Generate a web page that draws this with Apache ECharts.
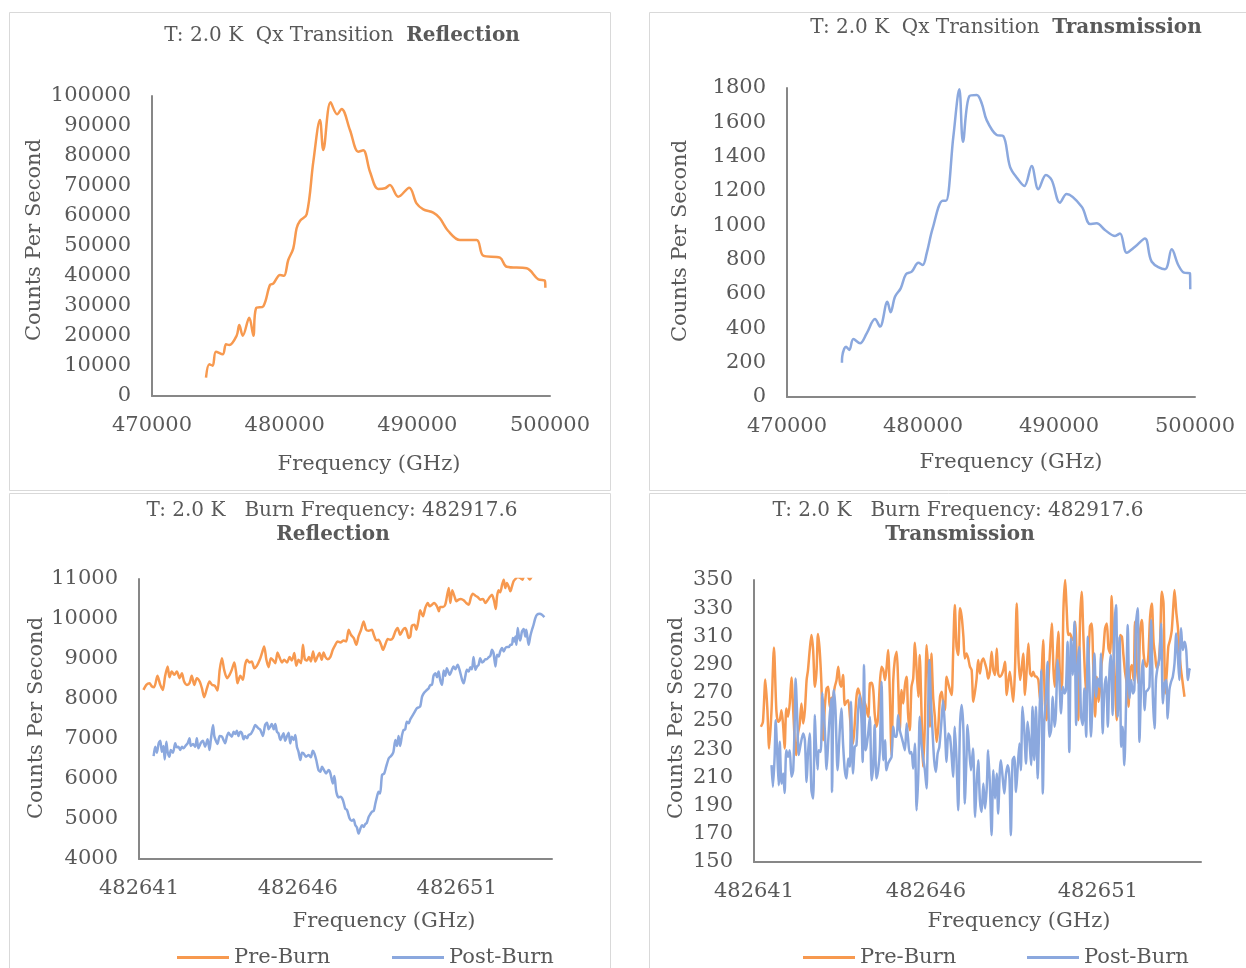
<!DOCTYPE html>
<html>
<head>
<meta charset="utf-8">
<script src="https://cdn.jsdelivr.net/npm/echarts@6/dist/echarts.min.js"></script>
<style>
html,body{margin:0;padding:0;background:#fff;}
#chart{width:1246px;height:968px;}
</style>
</head>
<body>
<div id="chart"></div>
<script>
// ---------- DATA ----------
const qxReflection = [[474070,6100],[474320,10570],[474570,10100],[474820,14770],[475330,13900],[475580,17230],[475830,17000],[476380,20100],[476580,23670],[476840,20100],[477330,26100],[477640,20100],[477840,29230],[478390,29900],[478890,37000],[479140,37430],[479650,40330],[479950,40100],[480270,45330],[480650,49230],[480900,55900],[481150,58330],[481660,60570],[482160,78100],[482660,92000],[482910,82000],[483460,97900],[483960,93900],[484290,95670],[484920,88670],[485550,81430],[485920,81900],[486430,74770],[487050,69000],[487560,69230],[487930,70330],[488560,66430],[489390,69430],[489940,64230],[490450,62230],[491200,61100],[491700,59230],[492330,55000],[493210,52000],[494470,52000],[494970,46770],[496230,46100],[496730,43100],[498240,42570],[499110,38900],[499620,38330],[499650,36100]];

const qxTransmission = [[474040,200],[474060,235],[474340,293],[474580,274],[474880,338],[475370,313],[475860,371],[476470,454],[476840,410],[477380,555],[477620,493],[477940,584],[478360,633],[478750,716],[479170,730],[479660,782],[479980,769],[480270,837],[480710,982],[481450,1143],[481690,1143],[482230,1516],[482670,1792],[482940,1487],[483410,1753],[483950,1759],[484320,1710],[484680,1613],[485420,1526],[485900,1520],[486400,1341],[486930,1274],[487450,1229],[487990,1345],[488480,1210],[489040,1293],[489460,1264],[490070,1132],[490560,1182],[491670,1108],[492280,1008],[492770,1012],[493380,973],[494120,938],[494490,953],[494980,840],[495590,875],[496320,924],[496820,788],[497790,744],[498290,860],[498770,769],[499190,724],[499630,720],[499650,627]];

const burnReflPre = [[482641.14,8228],[482641.23,8353],[482641.33,8395],[482641.41,8311],[482641.48,8295],[482641.58,8579],[482641.67,8353],[482641.75,8228],[482641.82,8563],[482641.90,8813],[482641.96,8545],[482642.03,8687],[482642.11,8604],[482642.19,8687],[482642.28,8520],[482642.35,8646],[482642.42,8437],[482642.51,8353],[482642.59,8395],[482642.66,8579],[482642.74,8353],[482642.82,8520],[482642.91,8437],[482642.98,8270],[482643.05,8044],[482643.14,8270],[482643.22,8437],[482643.30,8353],[482643.39,8328],[482643.47,8211],[482643.54,8729],[482643.61,9021],[482643.68,8729],[482643.77,8520],[482643.85,8604],[482643.92,8729],[482644.00,8913],[482644.06,8646],[482644.10,8395],[482644.19,8579],[482644.27,8479],[482644.34,8854],[482644.40,8980],[482644.48,8913],[482644.55,8938],[482644.63,8771],[482644.71,8829],[482644.80,8980],[482644.87,9147],[482644.94,9314],[482645.01,8980],[482645.08,8796],[482645.15,9021],[482645.21,8980],[482645.29,8896],[482645.36,9163],[482645.42,9047],[482645.50,8913],[482645.57,8980],[482645.66,8913],[482645.74,9047],[482645.81,8963],[482645.89,9147],[482645.95,8829],[482646.02,8980],[482646.10,8896],[482646.16,9356],[482646.22,8996],[482646.29,8963],[482646.35,9047],[482646.41,8938],[482646.48,9188],[482646.55,8938],[482646.62,9063],[482646.68,9147],[482646.75,8980],[482646.81,9163],[482646.87,9047],[482646.94,8996],[482647.02,9047],[482647.10,9230],[482647.18,9356],[482647.25,9439],[482647.34,9414],[482647.44,9464],[482647.52,9439],[482647.60,9731],[482647.67,9606],[482647.76,9523],[482647.84,9356],[482647.91,9564],[482647.99,9731],[482648.07,9940],[482648.15,9731],[482648.23,9706],[482648.33,9731],[482648.39,9606],[482648.47,9464],[482648.54,9481],[482648.62,9356],[482648.68,9230],[482648.75,9356],[482648.83,9498],[482648.91,9481],[482648.99,9523],[482649.07,9690],[482649.14,9773],[482649.22,9606],[482649.31,9731],[482649.38,9773],[482649.43,9690],[482649.49,9523],[482649.54,9564],[482649.59,9832],[482649.67,9857],[482649.73,9731],[482649.80,9982],[482649.85,10216],[482649.94,10066],[482650.01,10274],[482650.09,10400],[482650.15,10316],[482650.22,10358],[482650.29,10400],[482650.38,10316],[482650.44,10191],[482650.48,10299],[482650.57,10299],[482650.64,10358],[482650.69,10550],[482650.75,10776],[482650.80,10400],[482650.86,10717],[482650.93,10567],[482650.99,10441],[482651.06,10483],[482651.13,10500],[482651.22,10467],[482651.30,10400],[482651.38,10358],[482651.45,10550],[482651.51,10634],[482651.59,10583],[482651.66,10550],[482651.74,10483],[482651.83,10500],[482651.90,10400],[482651.97,10467],[482652.04,10550],[482652.11,10609],[482652.18,10441],[482652.23,10249],[482652.27,10567],[482652.32,10717],[482652.37,10667],[482652.43,10859],[482652.48,10984],[482652.53,10776],[482652.58,10901],[482652.64,10801],[482652.69,10692],[482652.74,10817],[482652.79,10943],[482652.85,11001],[482652.92,11051],[482653.00,11026],[482653.07,10984],[482653.15,11150],[482653.30,10990],[482653.45,11200],[482653.60,11250],[482653.75,11300]];

const burnReflPost = [[482641.46,6574],[482641.51,6808],[482641.56,6658],[482641.62,6891],[482641.67,6958],[482641.72,6683],[482641.77,6825],[482641.81,6490],[482641.86,6933],[482641.90,6683],[482641.96,6557],[482642.00,6724],[482642.07,6658],[482642.14,6891],[482642.19,6791],[482642.24,6808],[482642.30,6724],[482642.35,6808],[482642.40,6766],[482642.46,6825],[482642.53,6891],[482642.59,7017],[482642.63,6825],[482642.70,6875],[482642.77,6808],[482642.82,7017],[482642.87,6766],[482642.95,6908],[482643.01,6958],[482643.08,6808],[482643.16,6992],[482643.22,6724],[482643.26,6975],[482643.33,7351],[482643.37,7075],[482643.41,6975],[482643.47,6875],[482643.54,7075],[482643.61,7058],[482643.66,6975],[482643.71,6891],[482643.77,7075],[482643.82,7159],[482643.87,7100],[482643.92,7058],[482643.98,7184],[482644.03,7125],[482644.08,7209],[482644.13,7075],[482644.19,7184],[482644.24,7142],[482644.29,6992],[482644.34,7075],[482644.40,7017],[482644.45,7100],[482644.52,7125],[482644.59,7226],[482644.66,7351],[482644.71,7309],[482644.76,7267],[482644.82,7226],[482644.90,7075],[482644.97,7351],[482645.03,7409],[482645.08,7242],[482645.13,7309],[482645.18,7376],[482645.24,7242],[482645.29,7376],[482645.34,7184],[482645.39,7142],[482645.45,6975],[482645.50,7058],[482645.55,7142],[482645.60,6958],[482645.66,7075],[482645.71,7159],[482645.76,6891],[482645.81,7058],[482645.87,6975],[482645.92,7100],[482645.97,6808],[482646.02,6683],[482646.08,6474],[482646.13,6658],[482646.18,6641],[482646.26,6557],[482646.34,6599],[482646.41,6541],[482646.47,6708],[482646.52,6641],[482646.58,6474],[482646.65,6223],[482646.71,6181],[482646.76,6307],[482646.81,6240],[482646.89,6140],[482646.97,6223],[482647.02,6156],[482647.10,5889],[482647.15,6073],[482647.21,5680],[482647.28,5538],[482647.34,5555],[482647.42,5471],[482647.49,5263],[482647.55,5221],[482647.63,5012],[482647.70,4954],[482647.755,4987],[482647.81,4845],[482647.86,4787],[482647.91,4636],[482647.97,4761],[482648.02,4845],[482648.07,4803],[482648.12,4870],[482648.17,4903],[482648.23,5054],[482648.28,5121],[482648.33,5179],[482648.39,5204],[482648.44,5388],[482648.49,5555],[482648.54,5680],[482648.59,5638],[482648.65,6098],[482648.72,6140],[482648.78,6307],[482648.86,6516],[482648.91,6557],[482648.96,6599],[482649.01,6683],[482649.07,6975],[482649.12,6825],[482649.17,7075],[482649.22,6825],[482649.28,7100],[482649.33,7226],[482649.38,7242],[482649.43,7434],[482649.49,7393],[482649.54,7493],[482649.59,7560],[482649.665,7660],[482649.75,7769],[482649.85,7810],[482649.91,8061],[482649.98,8161],[482650.04,8211],[482650.12,8270],[482650.17,8353],[482650.22,8353],[482650.27,8579],[482650.33,8646],[482650.38,8545],[482650.43,8687],[482650.48,8479],[482650.54,8353],[482650.59,8712],[482650.64,8579],[482650.69,8771],[482650.78,8604],[482650.85,8729],[482650.90,8813],[482650.96,8746],[482651.03,8854],[482651.09,8729],[482651.17,8479],[482651.22,8395],[482651.27,8562],[482651.32,8729],[482651.38,8687],[482651.43,8796],[482651.48,8746],[482651.53,9047],[482651.59,8729],[482651.64,8813],[482651.69,8854],[482651.74,9021],[482651.80,8913],[482651.85,8938],[482651.90,8996],[482651.95,8996],[482652.01,9047],[482652.06,9080],[482652.11,9230],[482652.16,9147],[482652.22,8813],[482652.27,9105],[482652.32,9063],[482652.37,9188],[482652.425,9272],[482652.48,9188],[482652.53,9272],[482652.58,9297],[482652.64,9297],[482652.69,9356],[482652.74,9356],[482652.77,9523],[482652.81,9439],[482652.85,9564],[482652.88,9356],[482652.92,9773],[482652.96,9564],[482653.00,9464],[482653.055,9690],[482653.11,9748],[482653.16,9564],[482653.19,9731],[482653.23,9523],[482653.265,9356],[482653.32,9581],[482653.37,9731],[482653.42,9857],[482653.475,10024],[482653.53,10107],[482653.61,10132],[482653.685,10107],[482653.76,10049]];

const burnTransPre = [[482641.20,245.9],[482641.26,249.4],[482641.33,279.5],[482641.39,257.7],[482641.44,230.5],[482641.51,257.7],[482641.58,302.2],[482641.65,257.7],[482641.70,249.4],[482641.75,250.6],[482641.80,257.7],[482641.85,245.9],[482641.89,230.5],[482641.94,258.9],[482641.99,253.0],[482642.04,262.4],[482642.09,280.9],[482642.14,257.7],[482642.19,234.0],[482642.23,225.8],[482642.28,241.1],[482642.33,248.2],[482642.38,262.4],[482642.43,248.2],[482642.48,257.7],[482642.53,279.0],[482642.57,286.1],[482642.62,300.3],[482642.67,311.0],[482642.72,300.3],[482642.77,274.3],[482642.82,286.1],[482642.86,311.7],[482642.91,300.3],[482642.96,276.6],[482643.01,236.4],[482643.06,260.1],[482643.11,273.1],[482643.16,274.3],[482643.20,260.1],[482643.25,266.0],[482643.30,267.2],[482643.35,274.3],[482643.40,279.0],[482643.45,288.5],[482643.50,276.6],[482643.54,274.3],[482643.59,282.6],[482643.64,261.3],[482643.69,263.6],[482643.74,264.8],[482643.79,253.0],[482643.84,237.6],[482643.88,234.0],[482643.93,248.2],[482643.98,267.2],[482644.03,273.1],[482644.08,268.4],[482644.13,262.4],[482644.17,250.6],[482644.22,263.6],[482644.32,253.0],[482644.37,276.6],[482644.42,277.1],[482644.47,271.9],[482644.51,255.3],[482644.56,245.9],[482644.61,253.0],[482644.66,276.6],[482644.71,288.5],[482644.76,286.1],[482644.81,279.0],[482644.85,286.1],[482644.90,300.3],[482644.95,269.5],[482645.00,225.8],[482645.05,279.0],[482645.10,294.4],[482645.15,299.1],[482645.19,279.0],[482645.24,243.5],[482645.29,271.9],[482645.34,262.4],[482645.39,275.5],[482645.44,281.4],[482645.48,255.3],[482645.53,243.5],[482645.58,274.3],[482645.63,280.2],[482645.68,305.5],[482645.73,286.1],[482645.78,267.2],[482645.82,296.8],[482645.87,257.7],[482645.92,217.5],[482645.97,248.2],[482646.02,303.9],[482646.07,283.7],[482646.12,245.9],[482646.16,297.9],[482646.21,267.2],[482646.26,253.0],[482646.31,235.2],[482646.36,245.9],[482646.41,267.2],[482646.46,270.7],[482646.50,262.9],[482646.55,257.7],[482646.60,281.4],[482646.65,276.6],[482646.70,271.9],[482646.75,268.4],[482646.79,296.8],[482646.84,332.3],[482646.89,302.7],[482646.94,296.8],[482646.99,329.9],[482647.04,324.0],[482647.09,309.8],[482647.13,294.4],[482647.18,297.9],[482647.23,294.4],[482647.28,288.5],[482647.33,286.1],[482647.38,263.6],[482647.47,279.0],[482647.52,293.2],[482647.57,283.7],[482647.62,292.0],[482647.67,294.4],[482647.72,290.8],[482647.77,286.1],[482647.81,280.2],[482647.86,284.9],[482647.91,299.1],[482647.96,286.1],[482648.01,282.6],[482648.06,301.5],[482648.10,283.7],[482648.15,281.4],[482648.20,282.6],[482648.25,286.1],[482648.30,292.0],[482648.35,268.4],[482648.40,279.0],[482648.44,284.9],[482648.49,274.3],[482648.54,263.6],[482648.59,286.1],[482648.64,333.4],[482648.69,295.6],[482648.74,279.0],[482648.78,286.1],[482648.83,297.9],[482648.88,268.4],[482648.93,286.1],[482648.98,305.0],[482649.03,283.7],[482649.08,281.8],[482649.12,284.9],[482649.17,281.8],[482649.22,281.4],[482649.27,279.0],[482649.32,264.8],[482649.37,286.1],[482649.41,307.4],[482649.46,262.4],[482649.51,250.6],[482649.56,276.6],[482649.61,300.3],[482649.66,319.2],[482649.71,286.1],[482649.75,274.3],[482649.80,293.2],[482649.85,313.3],[482649.90,281.4],[482649.95,271.9],[482650.00,329.9],[482650.05,350.0],[482650.09,331.1],[482650.14,311.0],[482650.19,312.1],[482650.24,308.6],[482650.29,307.4],[482650.34,320.4],[482650.39,288.5],[482650.43,250.6],[482650.48,319.2],[482650.53,341.7],[482650.58,309.8],[482650.63,281.4],[482650.68,267.2],[482650.72,288.5],[482650.77,316.9],[482650.82,319.2],[482650.87,286.1],[482650.92,253.0],[482650.97,281.4],[482651.02,263.6],[482651.06,271.9],[482651.11,290.8],[482651.16,300.3],[482651.21,315.7],[482651.26,319.2],[482651.31,301.5],[482651.36,297.9],[482651.40,338.6],[482651.45,305.0],[482651.50,276.6],[482651.55,250.6],[482651.60,279.0],[482651.65,311.0],[482651.70,309.8],[482651.74,297.9],[482651.79,284.9],[482651.84,276.6],[482651.89,260.1],[482651.94,286.1],[482651.99,289.7],[482652.04,279.0],[482652.08,320.4],[482652.13,290.8],[482652.18,276.6],[482652.23,314.5],[482652.28,321.6],[482652.33,297.9],[482652.37,290.8],[482652.42,288.5],[482652.47,296.8],[482652.52,324.0],[482652.57,333.4],[482652.62,306.2],[482652.67,295.6],[482652.71,287.3],[482652.76,289.7],[482652.81,306.2],[482652.86,341.7],[482652.91,333.4],[482652.96,269.5],[482653.01,286.1],[482653.05,302.7],[482653.10,307.4],[482653.15,314.5],[482653.20,333.4],[482653.23,342.9],[482653.28,327.5],[482653.33,315.7],[482653.37,299.1],[482653.42,286.1],[482653.47,276.6],[482653.52,267.2]];

const burnTransPost = [[482641.51,218.7],[482641.55,203.3],[482641.60,224.6],[482641.63,250.6],[482641.68,224.6],[482641.72,204.5],[482641.75,235.2],[482641.80,205.6],[482641.85,212.7],[482641.89,199.0],[482641.94,229.3],[482641.99,224.6],[482642.04,229.3],[482642.09,210.4],[482642.14,215.1],[482642.19,255.3],[482642.21,280.2],[482642.26,250.6],[482642.30,225.8],[482642.36,234.0],[482642.43,241.1],[482642.48,236.4],[482642.53,206.8],[482642.57,226.9],[482642.62,241.1],[482642.67,200.9],[482642.72,195.0],[482642.77,254.2],[482642.80,234.0],[482642.85,215.6],[482642.88,229.3],[482642.94,228.1],[482642.99,270.0],[482643.06,243.5],[482643.11,215.6],[482643.16,236.4],[482643.20,253.0],[482643.25,266.0],[482643.27,199.7],[482643.32,271.9],[482643.37,257.7],[482643.43,215.1],[482643.50,245.9],[482643.54,258.9],[482643.59,234.0],[482643.64,215.1],[482643.69,209.2],[482643.74,223.4],[482643.79,217.5],[482643.82,263.6],[482643.85,236.4],[482643.88,212.7],[482643.93,231.7],[482643.98,232.9],[482644.03,257.7],[482644.08,268.4],[482644.13,248.2],[482644.16,221.0],[482644.20,289.7],[482644.24,229.3],[482644.27,231.7],[482644.32,241.1],[482644.37,253.0],[482644.42,208.0],[482644.47,219.8],[482644.51,247.1],[482644.56,209.2],[482644.61,215.1],[482644.66,229.3],[482644.71,277.8],[482644.76,222.2],[482644.81,236.4],[482644.85,215.1],[482644.90,219.8],[482644.95,222.2],[482645.00,224.6],[482645.05,245.9],[482645.10,238.8],[482645.15,238.8],[482645.19,254.2],[482645.24,243.5],[482645.29,238.8],[482645.34,234.0],[482645.39,229.3],[482645.44,248.2],[482645.48,237.6],[482645.53,226.9],[482645.58,228.1],[482645.63,216.3],[482645.68,234.0],[482645.73,186.7],[482645.78,212.7],[482645.82,253.0],[482645.87,234.0],[482645.92,223.4],[482645.97,215.1],[482646.02,202.1],[482646.05,234.0],[482646.10,293.2],[482646.14,267.2],[482646.19,243.5],[482646.24,222.2],[482646.29,213.9],[482646.34,226.9],[482646.39,231.7],[482646.44,245.9],[482646.50,264.8],[482646.55,245.9],[482646.60,221.0],[482646.65,241.1],[482646.70,238.8],[482646.75,224.6],[482646.79,210.4],[482646.84,245.9],[482646.89,222.2],[482646.94,186.7],[482646.99,245.9],[482647.04,261.3],[482647.09,243.5],[482647.13,191.4],[482647.18,224.6],[482647.21,247.1],[482647.26,229.3],[482647.31,215.1],[482647.37,230.5],[482647.43,182.0],[482647.47,203.3],[482647.52,222.2],[482647.57,193.8],[482647.62,185.5],[482647.67,205.6],[482647.72,187.9],[482647.77,203.3],[482647.81,229.3],[482647.86,205.6],[482647.91,169.0],[482647.96,215.1],[482648.01,195.0],[482648.06,212.7],[482648.10,184.3],[482648.15,215.1],[482648.18,222.2],[482648.23,210.4],[482648.28,198.5],[482648.33,212.7],[482648.38,218.7],[482648.43,209.2],[482648.47,169.0],[482648.52,222.2],[482648.57,224.6],[482648.62,199.7],[482648.67,217.5],[482648.72,234.0],[482648.76,215.1],[482648.81,260.1],[482648.86,243.5],[482648.91,219.8],[482648.96,249.4],[482649.01,236.4],[482649.06,218.7],[482649.10,260.1],[482649.15,222.2],[482649.20,260.1],[482649.25,209.2],[482649.30,253.0],[482649.35,286.1],[482649.40,198.5],[482649.44,248.2],[482649.49,267.2],[482649.54,292.0],[482649.59,238.8],[482649.64,243.5],[482649.69,267.2],[482649.74,245.9],[482649.78,255.3],[482649.83,293.2],[482649.88,279.0],[482649.93,255.3],[482649.98,274.3],[482650.03,269.5],[482650.07,271.9],[482650.12,306.2],[482650.17,228.1],[482650.22,308.6],[482650.27,282.6],[482650.32,320.4],[482650.37,247.1],[482650.41,286.1],[482650.46,302.7],[482650.51,254.2],[482650.56,247.1],[482650.61,273.1],[482650.66,238.8],[482650.71,309.8],[482650.75,281.4],[482650.80,238.8],[482650.85,267.2],[482650.90,297.9],[482650.95,267.2],[482651.00,280.2],[482651.05,274.3],[482651.09,297.9],[482651.14,241.1],[482651.19,271.9],[482651.24,281.4],[482651.29,245.9],[482651.34,286.1],[482651.38,296.8],[482651.43,254.2],[482651.48,314.5],[482651.53,332.3],[482651.58,253.0],[482651.63,309.8],[482651.68,231.7],[482651.72,245.9],[482651.77,218.7],[482651.82,261.3],[482651.87,318.1],[482651.92,266.0],[482651.97,279.0],[482652.02,269.5],[482652.06,271.9],[482652.11,319.2],[482652.16,329.9],[482652.21,235.2],[482652.26,276.6],[482652.31,293.2],[482652.36,257.7],[482652.40,270.7],[482652.45,271.9],[482652.50,274.3],[482652.55,321.6],[482652.60,267.2],[482652.65,244.7],[482652.69,279.0],[482652.74,288.5],[482652.79,294.4],[482652.84,319.2],[482652.89,262.4],[482652.94,276.6],[482652.99,279.0],[482653.03,251.8],[482653.08,271.9],[482653.13,277.8],[482653.18,281.4],[482653.23,290.8],[482653.28,312.1],[482653.33,294.4],[482653.37,279.0],[482653.42,315.7],[482653.47,300.3],[482653.52,306.2],[482653.57,300.3],[482653.62,279.0],[482653.66,286.1],[482653.68,287.3]];

// axis ranges / tick steps
const qxFreqTicks = {min: 470000, max: 500000, step: 10000};
const burnFreqTicks = {min: 482641, max: 482654, step: 5};
const qxReflTicks = {min: 0, max: 100000, step: 10000};
const qxTransTicks = {min: 0, max: 1800, step: 200};
const burnReflTicks = {min: 4000, max: 11000, step: 1000};
const burnTransTicks = {min: 150, max: 350, step: 20};

// ---------- STYLE ----------
const FONT = '"DejaVu Serif", "Liberation Serif", serif';
const TXT = '#595959';
const ORANGE = '#F7994F';
const BLUE = '#8BA8DE';
const AXIS = '#878787';

function xAxis(gi, t) {
  return {
    type: 'value', gridIndex: gi, min: t.min, max: t.max, interval: t.step,
    axisLine: {show: true, onZero: false, lineStyle: {color: AXIS, width: 2}},
    axisTick: {show: false}, splitLine: {show: false},
    axisLabel: {color: TXT, fontFamily: FONT, fontSize: 21, margin: 19,
      showMaxLabel: (t.max - t.min) % t.step === 0,
      formatter: v => String(Math.round(v))}
  };
}
function yAxis(gi, t) {
  return {
    type: 'value', gridIndex: gi, min: t.min, max: t.max, interval: t.step,
    axisLine: {show: true, onZero: false, lineStyle: {color: AXIS, width: 2}},
    axisTick: {show: false}, splitLine: {show: false},
    axisLabel: {color: TXT, fontFamily: FONT, fontSize: 21, margin: 21, formatter: v => String(Math.round(v))}
  };
}
function line(name, data, color, idx, smooth) {
  return {name, type: 'line', data, xAxisIndex: idx, yAxisIndex: idx, showSymbol: false, symbol: 'none',
    smooth, lineStyle: {color, width: 2.5}, itemStyle: {color}, clip: true, animation: false};
}
function gtext(text, x, y, size, rot) {
  return {type: 'text', x, y, rotation: rot || 0,
    style: {text, fill: TXT, font: size + 'px ' + FONT, align: 'center', verticalAlign: 'middle'}};
}
function titleRich(a, b, x, y) {
  return {type: 'text', x, y,
    style: {text: '{a|' + a + '}{b|' + b + '}', align: 'center', verticalAlign: 'middle',
      rich: {a: {fill: TXT, fontFamily: FONT, fontSize: 20},
             b: {fill: TXT, fontFamily: FONT, fontSize: 20, fontWeight: 'bold'}}}};
}
function border(x, y, w, h) {
  return {type: 'rect', shape: {x, y, width: w, height: h}, style: {fill: null, stroke: '#D9D9D9', lineWidth: 1}, silent: true};
}
function legend(name, left) {
  return {data: [name], left, top: 942, icon: 'rect', itemWidth: 52, itemHeight: 3, itemGap: 0,
    textStyle: {color: TXT, fontFamily: FONT, fontSize: 21}, selectedMode: false};
}

const option = {
  backgroundColor: '#fff',
  animation: false,
  grid: [
    {left: 152, top: 96, width: 398, height: 300},
    {left: 787, top: 88, width: 408, height: 309},
    {left: 139, top: 579, width: 413, height: 280},
    {left: 754, top: 580, width: 447, height: 282}
  ],
  xAxis: [xAxis(0, qxFreqTicks), xAxis(1, qxFreqTicks), xAxis(2, burnFreqTicks), xAxis(3, burnFreqTicks)],
  yAxis: [yAxis(0, qxReflTicks), yAxis(1, qxTransTicks), yAxis(2, burnReflTicks), yAxis(3, burnTransTicks)],
  legend: [legend('Pre-Burn', 172), legend('Post-Burn', 387), legend('Pre-Burn', 798), legend('Post-Burn', 1022)],
  series: [
    line('Qx Reflection', qxReflection, ORANGE, 0, 0.35),
    line('Qx Transmission', qxTransmission, BLUE, 1, 0.35),
    line('Pre-Burn', burnReflPre, ORANGE, 2, 0.25),
    line('Post-Burn', burnReflPost, BLUE, 2, 0.25),
    line('Pre-Burn', burnTransPre, ORANGE, 3, 0.25),
    line('Post-Burn', burnTransPost, BLUE, 3, 0.25)
  ],
  graphic: [
    border(9.5, 12.5, 601, 478),
    border(649.5, 12.5, 640, 478),
    border(9.5, 493.5, 601, 500),
    border(649.5, 493.5, 640, 500),
    titleRich('T: 2.0 K  Qx Transition  ', 'Reflection', 342, 36),
    titleRich('T: 2.0 K  Qx Transition  ', 'Transmission', 1006, 28),
    gtext('T: 2.0 K   Burn Frequency: 482917.6', 332, 511, 20),
    {type: 'text', x: 333, y: 535, style: {text: 'Reflection', fill: TXT, font: 'bold 20px ' + FONT, align: 'center', verticalAlign: 'middle'}},
    gtext('T: 2.0 K   Burn Frequency: 482917.6', 958, 511, 20),
    {type: 'text', x: 960, y: 535, style: {text: 'Transmission', fill: TXT, font: 'bold 20px ' + FONT, align: 'center', verticalAlign: 'middle'}},
    gtext('Frequency (GHz)', 369, 465, 21),
    gtext('Counts Per Second', 35, 240, 21, Math.PI / 2),
    gtext('Frequency (GHz)', 1011, 463, 21),
    gtext('Counts Per Second', 681, 241, 21, Math.PI / 2),
    gtext('Frequency (GHz)', 384, 922, 21),
    gtext('Counts Per Second', 37, 718, 21, Math.PI / 2),
    gtext('Frequency (GHz)', 1019, 922, 21),
    gtext('Counts Per Second', 677, 718, 21, Math.PI / 2)
  ]
};

const chart = echarts.init(document.getElementById('chart'), null, {renderer: 'canvas'});
chart.setOption(option);
</script>
</body>
</html>
